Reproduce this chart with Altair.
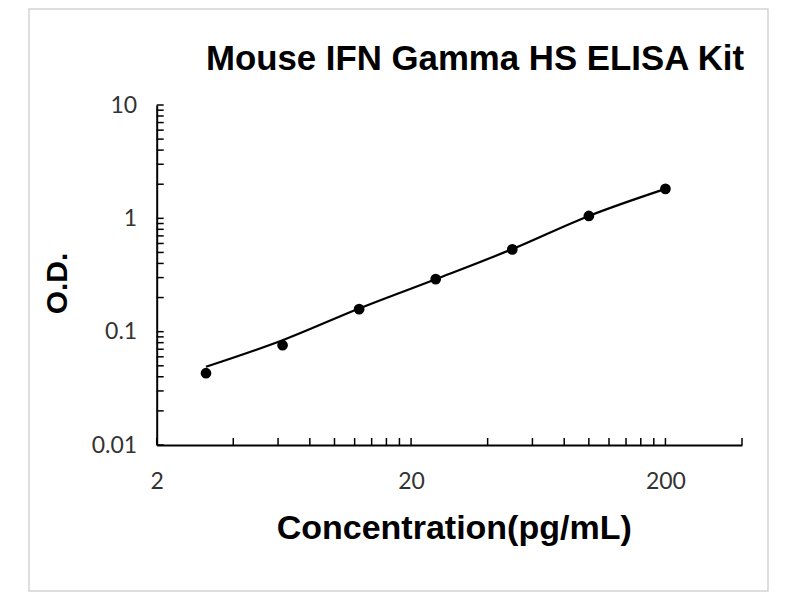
import altair as alt
import pandas as pd

# ---- data ----
conc = [3.125, 6.25, 12.5, 25, 50, 100, 200]
od = [0.043, 0.076, 0.158, 0.291, 0.532, 1.05, 1.82]
fit_od = [0.049, 0.084, 0.160, 0.290, 0.535, 1.05, 1.82]

x_label_values = [2, 20, 200]
y_label_values = [0.01, 0.1, 1, 10]
x_tick_values = [2, 4, 6, 8, 10, 12, 14, 16, 18, 20,
                 40, 60, 80, 100, 120, 140, 160, 180, 200, 400]
y_tick_values = [0.01, 0.02, 0.03, 0.04, 0.05, 0.06, 0.07, 0.08, 0.09,
                 0.1, 0.2, 0.3, 0.4, 0.5, 0.6, 0.7, 0.8, 0.9,
                 1, 2, 3, 4, 5, 6, 7, 8, 9, 10]
chart_title = "Mouse IFN Gamma HS ELISA Kit"
x_title = "Concentration(pg/mL)"
y_title = "O.D."

W, H = 585.3, 340

pts = pd.DataFrame({"conc": conc, "od": od})
fit = pd.DataFrame({"conc": conc, "od": fit_od})
xt = pd.DataFrame({"conc": x_tick_values})
yt = pd.DataFrame({"od": y_tick_values})
one = pd.DataFrame({"k": [0]})

xs = alt.Scale(type="log", domain=[2, 400], nice=False)
ys = alt.Scale(type="log", domain=[0.01, 10], nice=False)

x_axis = alt.Axis(values=x_label_values, format="~g", ticks=False, tickSize=0, grid=False,
                  domainColor="black", domainWidth=2,
                  labelFont="Lato", labelFontSize=23, labelColor="#333333", labelPadding=25,
                  labelFlush=False, labelOverlap=False,
                  title=x_title, titleFont="Liberation Sans", titleFontWeight="bold",
                  titleFontSize=34, titleColor="black", titleX=297, titleY=83,
                  titleAlign="center", titleBaseline="middle")
y_axis = alt.Axis(values=y_label_values, format="~g", ticks=False, tickSize=0, grid=False,
                  domainColor="black", domainWidth=2,
                  labelFont="Lato", labelFontSize=23, labelColor="#333333", labelPadding=20,
                  labelFlush=False, labelOverlap=False,
                  title=y_title, titleFont="Liberation Sans", titleFontWeight="bold",
                  titleFontSize=30, titleColor="black", titleX=-99.7, titleY=178,
                  titleAngle=270, titleAlign="center", titleBaseline="middle")

X = alt.X("conc:Q", scale=xs, axis=x_axis)
Y = alt.Y("od:Q", scale=ys, axis=y_axis)

border = alt.Chart(one).mark_rect(fillOpacity=0, stroke="#d4d4d4", strokeWidth=1.5).encode(
    x=alt.value(-127.7), x2=alt.value(611.3), y=alt.value(-96), y2=alt.value(486))

title = alt.Chart(one).mark_text(text=chart_title, font="Liberation Sans", fontWeight="bold",
                                 fontSize=34.8, align="center", baseline="middle",
                                 color="black").encode(
    x=alt.value(318.3), y=alt.value(-45))

line = alt.Chart(fit).mark_line(color="black", strokeWidth=2.2, interpolate="monotone").encode(x=X, y=Y)
points = alt.Chart(pts).mark_circle(size=115, color="black", opacity=1).encode(x=X, y=Y)

xticks = alt.Chart(xt).mark_rule(color="black", strokeWidth=1.5).encode(
    x=X, y=alt.value(H), y2=alt.value(H - 7))
yticks = alt.Chart(yt).mark_rule(color="black", strokeWidth=1.5).encode(
    y=Y, x=alt.value(0), x2=alt.value(7))

chart = alt.layer(border, title, line, points, xticks, yticks).properties(
    width=W, height=H, autosize="none",
    padding={"left": 148.7, "top": 97, "right": 784 - 148.7 - W, "bottom": 147},
    background="white",
).configure_view(stroke="transparent")

chart.save("out.html", embed_options={"renderer": "svg", "actions": False})
